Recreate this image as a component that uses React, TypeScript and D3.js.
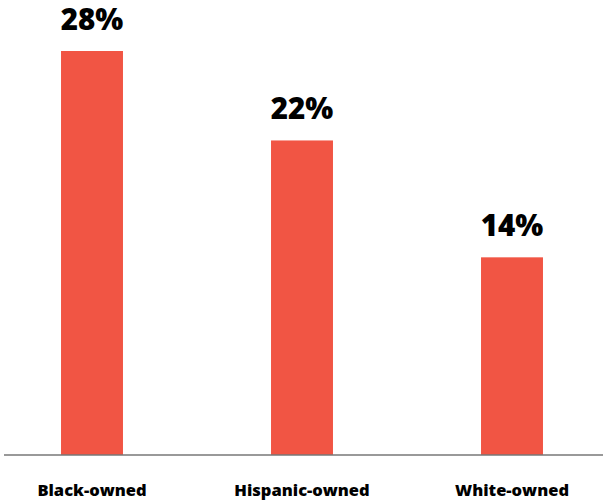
import React from "react";
import * as d3 from "d3";

const categories = ["Black-owned", "Hispanic-owned", "White-owned"];
const values = [28, 21.8, 13.7];

const W = 603;
const H = 502;

export default function App() {
  const x = d3
    .scaleBand<string>()
    .domain(categories)
    .range([-13, 617])
    .paddingInner(0.705)
    .paddingOuter(0.3525);
  const y = d3.scaleLinear().domain([0, 28]).range([455, 51]);
  const fmt = (v: number) => `${Math.round(v)}%`;
  const font = "'Open Sans', Lato, sans-serif";

  return (
    <svg
      width={W}
      height={H}
      style={{ position: "absolute", left: 0, top: 0, background: "#fff" }}
    >
      {categories.map((c, i) => {
        const bx = x(c)!;
        const bw = x.bandwidth();
        const cx = bx + bw / 2;
        return (
          <g key={c}>
            <rect x={bx} y={y(values[i])} width={bw} height={y(0) - y(values[i])} fill="#f15544" />
            <text
              x={cx}
              y={y(values[i]) - 21}
              textAnchor="middle"
              fontFamily={font}
              fontWeight={800}
              fontSize={29.5}
              fill="#000"
            >
              {fmt(values[i])}
            </text>
            <text
              x={cx}
              y={496}
              textAnchor="middle"
              fontFamily={font}
              fontWeight={800}
              fontSize={16.5}
              fill="#000"
            >
              {c}
            </text>
          </g>
        );
      })}
      <line x1={4} x2={W} y1={y(0)} y2={y(0)} stroke="#777" strokeWidth={1.5} />
    </svg>
  );
}
